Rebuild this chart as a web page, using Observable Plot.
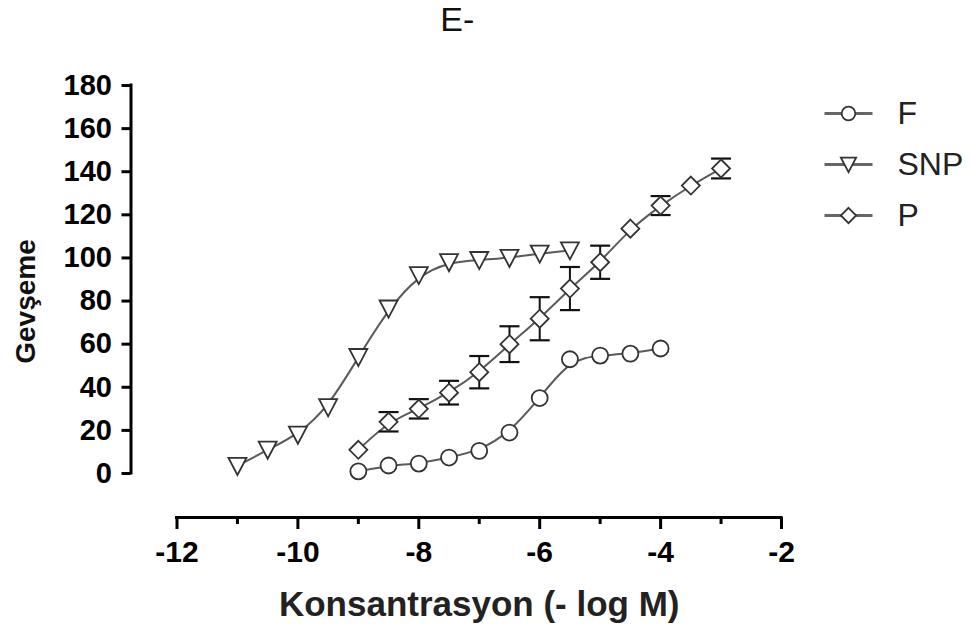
<!DOCTYPE html>
<html><head><meta charset="utf-8">
<script src="https://cdn.jsdelivr.net/npm/d3@7"></script>
<script src="https://cdn.jsdelivr.net/npm/@observablehq/plot@0.6"></script>
<style>body{margin:0;background:#fff} #chart{width:970px;height:625px}</style>
</head><body><div id="chart"></div>
<script>
// ---- data ----
const title = "E-";
const xLabel = "Konsantrasyon (- log M)";
const yLabel = "Gevşeme";
const seriesNames = ["F", "SNP", "P"];
const xTicks = [-12, -10, -8, -6, -4, -2];
const xMinorTicks = [-11, -9, -7, -5, -3];
const yTicks = [0, 20, 40, 60, 80, 100, 120, 140, 160, 180];

const fX = [-9, -8.5, -8, -7.5, -7, -6.5, -6, -5.5, -5, -4.5, -4];
const fY = [1, 3.7, 4.6, 7.4, 10.5, 19, 35, 53, 54.7, 55.6, 58];

const snpX = [-11, -10.5, -10, -9.5, -9, -8.5, -8, -7.5, -7, -6.5, -6, -5.5];
const snpY = [3.5, 11, 18, 30.7, 54, 76.5, 92, 98, 99, 100, 102, 103.5];

const pX = [-9, -8.5, -8, -7.5, -7, -6.5, -6, -5.5, -5, -4.5, -4, -3.5, -3];
const pY = [11, 24, 30, 37.5, 47, 60, 71.8, 85.8, 98, 113.6, 124.3, 133.6, 141.5];
const pErr = [0, 4.5, 4.5, 5.5, 7.5, 8.3, 10, 10, 7.7, 0, 4.4, 0, 4.6];

// ---- symbols ----
const rad = s => Math.sqrt(s / Math.PI);
const circleSym = {draw(c, s) { const r = rad(s); c.moveTo(r, 0); c.arc(0, 0, r, 0, 2 * Math.PI); }};
const triDownSym = {draw(c, s) { const r = rad(s); c.moveTo(-r, -0.9 * r); c.lineTo(r, -0.9 * r); c.lineTo(0, r); c.closePath(); }};
const diamondSym = {draw(c, s) { const r = rad(s); c.moveTo(0, -r); c.lineTo(r, 0); c.lineTo(0, r); c.lineTo(-r, 0); c.closePath(); }};
const hLineSym = {draw(c, s) { const r = rad(s); c.moveTo(-r, 0); c.lineTo(r, 0); }};

const mk = (xs, ys, es) => xs.map((x, i) => ({x, y: ys[i], e: es ? es[i] : 0}));
const fData = mk(fX, fY);
const snpData = mk(snpX, snpY);
const pData = mk(pX, pY, pErr);
const pErrData = pData.filter(d => d.e > 0);

const series = [
  {name: seriesNames[0], data: fData, symbol: circleSym, r: 8},
  {name: seriesNames[1], data: snpData, symbol: triDownSym, r: 9},
  {name: seriesNames[2], data: pData, symbol: diamondSym, r: 9}
];

const font = "'Liberation Sans', Arial, sans-serif";
const fmt = d => (d < 0 ? "-" + (-d) : String(d));
const lineColor = "#5a5a5a";
const markColor = "#333";

const marks = [];
// axes
marks.push(Plot.ruleX([xTicks[0]], {y1: yTicks[0], y2: yTicks[yTicks.length - 1], dx: -46, stroke: "#000", strokeWidth: 3, strokeLinecap: "square"}));
marks.push(Plot.axisY(yTicks, {anchor: "left", label: null, dx: -46, tickSize: 9, tickPadding: 10, strokeWidth: 3, fontSize: 29, fontWeight: "bold", tickFormat: fmt, color: "#000"}));
marks.push(Plot.ruleY([yTicks[0]], {x1: xTicks[0], x2: xTicks[xTicks.length - 1], dy: 44, stroke: "#000", strokeWidth: 3, strokeLinecap: "square"}));
marks.push(Plot.axisX(xTicks, {anchor: "bottom", label: null, dy: 44, tickSize: 12, tickPadding: 11, strokeWidth: 3, fontSize: 30, fontWeight: "bold", tickFormat: fmt, color: "#000"}));
marks.push(Plot.axisX(xMinorTicks, {anchor: "bottom", label: null, dy: 44, tickSize: 7, strokeWidth: 3, tickFormat: () => "", color: "#000"}));

// curves
for (const s of series) {
  marks.push(Plot.line(s.data, {x: "x", y: "y", curve: "basis", stroke: lineColor, strokeWidth: 2}));
}
// error bars (P)
marks.push(Plot.ruleX(pErrData, {x: "x", y1: d => d.y - d.e, y2: d => d.y + d.e, stroke: "#111", strokeWidth: 2}));
marks.push(Plot.dot(pErrData, {x: "x", y: d => d.y - d.e, symbol: hLineSym, r: 10, stroke: "#111", strokeWidth: 2.2}));
marks.push(Plot.dot(pErrData, {x: "x", y: d => d.y + d.e, symbol: hLineSym, r: 10, stroke: "#111", strokeWidth: 2.2}));
// markers
for (const s of series) {
  marks.push(Plot.dot(s.data, {x: "x", y: "y", symbol: s.symbol, r: s.r, fill: "white", stroke: markColor, strokeWidth: 1.8}));
}
// legend
series.forEach((s, i) => {
  const dy = 28 + i * 51;
  marks.push(Plot.dot([s.name], {frameAnchor: "top-right", dx: 67, dy, symbol: hLineSym, r: 24, stroke: "#666", strokeWidth: 3}));
  marks.push(Plot.dot([s.name], {frameAnchor: "top-right", dx: 67, dy, symbol: s.symbol, r: s.r * 0.85, fill: "white", stroke: markColor, strokeWidth: 1.8}));
  marks.push(Plot.text([s.name], {frameAnchor: "top-right", dx: 116, dy, text: d => d, textAnchor: "start", lineAnchor: "middle", fontSize: 32, fill: "#222"}));
});
// titles
marks.push(Plot.text([title], {frameAnchor: "top", dx: -22, dy: -65, text: d => d, textAnchor: "middle", lineAnchor: "middle", fontSize: 34, fill: "#111"}));
marks.push(Plot.text([yLabel], {frameAnchor: "left", dx: -151, dy: 22, rotate: -90, text: d => d, textAnchor: "middle", lineAnchor: "middle", fontSize: 28, fontWeight: "bold", fill: "#111"}));
marks.push(Plot.text([xLabel], {frameAnchor: "bottom", dx: 0, dy: 131, text: d => d, textAnchor: "middle", lineAnchor: "middle", fontSize: 35, fontWeight: "bold", fill: "#222"}));

const chart = Plot.plot({
  width: 970, height: 625,
  marginLeft: 176.5, marginRight: 189, marginTop: 85, marginBottom: 152,
  x: {domain: [xTicks[0], xTicks[xTicks.length - 1]], axis: null},
  y: {domain: [yTicks[0], yTicks[yTicks.length - 1]], axis: null},
  style: {fontFamily: font, background: "white", overflow: "visible"},
  marks
});
document.getElementById("chart").appendChild(chart);
</script></body></html>
